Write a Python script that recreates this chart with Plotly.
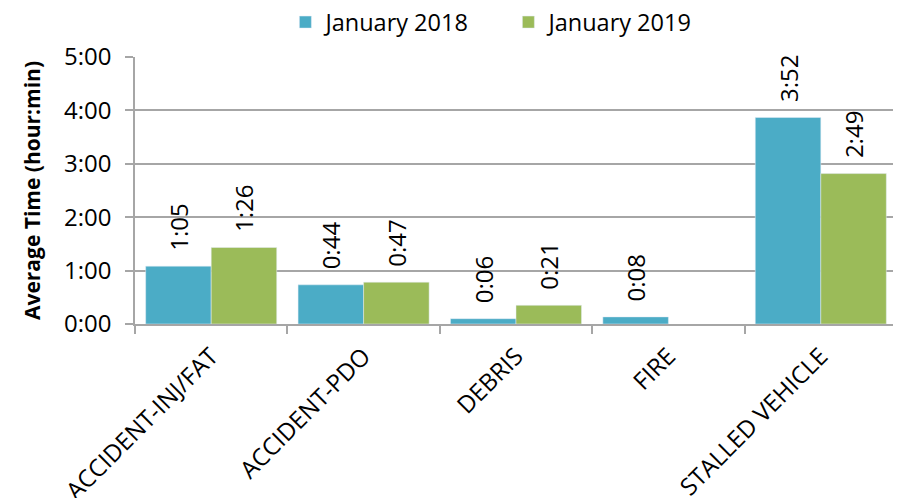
import plotly.graph_objects as go

categories = ["ACCIDENT-INJ/FAT", "ACCIDENT-PDO", "DEBRIS", "FIRE", "STALLED VEHICLE"]
minutes_2018 = [65, 44, 6, 8, 232]
minutes_2019 = [86, 47, 21, None, 169]
y_tick_labels = ["0:00", "1:00", "2:00", "3:00", "4:00", "5:00"]

def to_hours(vals):
    return [None if v is None else v / 60 for v in vals]

def to_label(vals):
    return ["" if v is None else "\u00a0\u00a0" + f"{v // 60}:{v % 60:02d}" for v in vals]

font = "Open Sans, DejaVu Sans, sans-serif"

fig = go.Figure()
fig.add_trace(go.Bar(
    name="January 2018", x=categories, y=to_hours(minutes_2018),
    text=to_label(minutes_2018), textposition="outside", textangle=-90,
    marker=dict(color="#4BACC6"), textfont=dict(size=24, color="#000", family=font),
    cliponaxis=False,
))
fig.add_trace(go.Bar(
    name="January 2019", x=categories, y=to_hours(minutes_2019),
    text=to_label(minutes_2019), textposition="outside", textangle=-90,
    marker=dict(color="#9BBB59"), textfont=dict(size=24, color="#000", family=font),
    cliponaxis=False,
))

fig.update_layout(
    width=893, height=490,
    paper_bgcolor="white", plot_bgcolor="white",
    margin=dict(l=127, r=4, t=49, b=174, autoexpand=False),
    barmode="group", bargap=0.14, bargroupgap=0,
    font=dict(family=font, size=22, color="#000"),
    showlegend=True,
    legend=dict(orientation="h", x=0.49, xanchor="center", y=1.13, yanchor="middle",
                font=dict(size=23.5), itemwidth=30, tracegroupgap=0,
                entrywidth=178, entrywidthmode="pixels"),
    uniformtext=dict(minsize=8, mode=False),
)
fig.update_yaxes(
    range=[0, 5], tickvals=[0, 1, 2, 3, 4, 5], ticktext=y_tick_labels,
    showgrid=True, gridcolor="#A6A6A6", gridwidth=1.5,
    showline=True, linecolor="#A6A6A6", linewidth=1.5,
    ticks="outside", ticklen=8, tickcolor="#A6A6A6", tickwidth=1.5,
    tickfont=dict(size=24), zeroline=False, automargin=False, ticklabelstandoff=9,
    title=dict(text="<b>Average Time (hour:min)</b>", font=dict(size=21), standoff=18),
)
fig.update_xaxes(
    tickangle=-45, tickfont=dict(size=24), automargin=False, ticklabelstandoff=7,
    showline=True, linecolor="#A6A6A6", linewidth=1.5,
    ticks="outside", tickson="boundaries", ticklen=8, tickcolor="#A6A6A6", tickwidth=1.5,
)

fig.write_html("out.html")
